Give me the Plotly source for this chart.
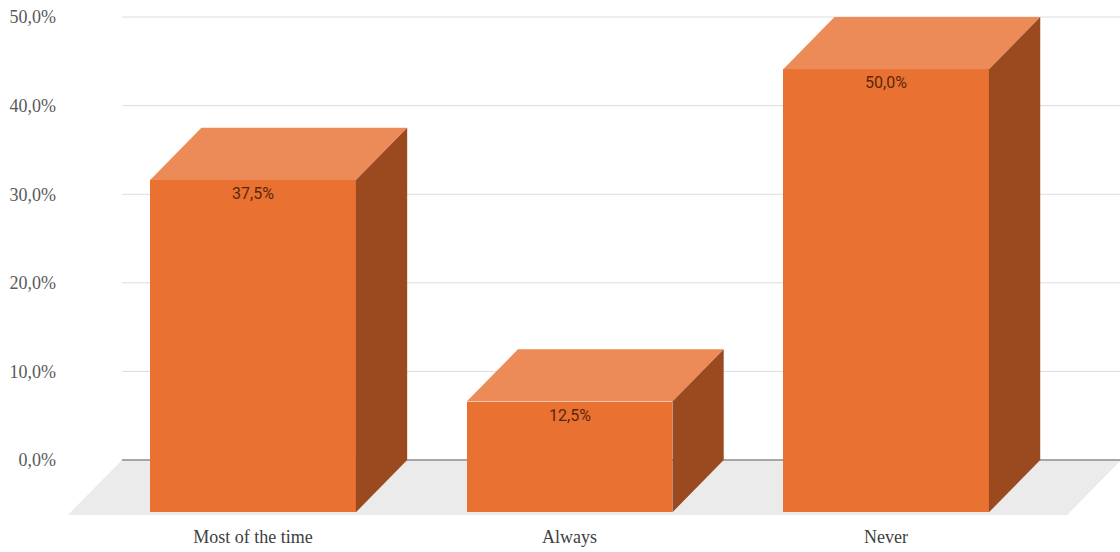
import plotly.graph_objects as go

categories = ["Most of the time", "Always", "Never"]
values = [37.5, 12.5, 50.0]
y_ticks = [0, 10, 20, 30, 40, 50]

# geometry / style (not data)
BAR_W = 0.65
DX = 0.162        # depth offset in x units
DY = 5.9          # depth offset in y units
FLOOR_DY = 6.2
FLOOR_X0 = -0.585
FLOOR_X1 = 2.572
FLOOR_DX = 0.171
X_RANGE = [-0.6035, 2.739]
Y_RANGE = [-6.77, 51.92]
FRONT = "#E97132"
TOP = "#EC8A58"
SIDE = "#9B4A1F"


def pct(v):
    return f"{v:.1f}".replace(".", ",") + "%"


xs = list(range(len(categories)))

fig = go.Figure()

shapes = []
# floor
shapes.append(dict(type="path", layer="below", xref="x", yref="y",
                   path=f"M {FLOOR_X0},{-FLOOR_DY} L {FLOOR_X1},{-FLOOR_DY} "
                        f"L {FLOOR_X1 + FLOOR_DX},0 L {FLOOR_X0 + FLOOR_DX},0 Z",
                   fillcolor="#EBEBEB", line=dict(width=0)))
# gridlines on back wall
for t in y_ticks:
    shapes.append(dict(type="line", layer="below", xref="x", yref="y",
                       x0=FLOOR_X0 + FLOOR_DX, x1=X_RANGE[1] + 0.1, y0=t, y1=t,
                       line=dict(color="#A6A6A6" if t == 0 else "#DCDCDC",
                                 width=2 if t == 0 else 1)))

# front faces
fig.add_trace(go.Bar(
    x=xs, y=values, base=[-DY] * len(values), width=BAR_W,
    marker=dict(color=FRONT, line=dict(width=0)),
    hoverinfo="skip", showlegend=False,
))

# top and side faces
for x, v in zip(xs, values):
    x0 = x - BAR_W / 2
    x1 = x + BAR_W / 2
    top_y = v - DY
    fig.add_trace(go.Scatter(
        x=[x0, x1, x1 + DX, x0 + DX, x0],
        y=[top_y, top_y, v, v, top_y],
        fill="toself", fillcolor=TOP, mode="lines", line=dict(width=0, color=TOP),
        hoverinfo="skip", showlegend=False))
    fig.add_trace(go.Scatter(
        x=[x1, x1 + DX, x1 + DX, x1, x1],
        y=[-DY, 0, v, top_y, -DY],
        fill="toself", fillcolor=SIDE, mode="lines", line=dict(width=0, color=SIDE),
        hoverinfo="skip", showlegend=False))

annotations = []
for x, v in zip(xs, values):
    annotations.append(dict(x=x, y=v - DY, xref="x", yref="y", text=pct(v),
                            showarrow=False, yanchor="top", yshift=-2,
                            font=dict(family="Roboto, Arial, sans-serif", size=16,
                                      color="#5C2708")))

fig.update_layout(
    width=1120, height=552,
    margin=dict(l=62, r=0, t=0, b=32),
    paper_bgcolor="white", plot_bgcolor="white",
    shapes=shapes,
    annotations=annotations,
    bargap=0,
    xaxis=dict(range=X_RANGE, tickvals=xs, ticktext=categories, showgrid=False,
               zeroline=False, showline=False, ticks="", ticklabelstandoff=4,
               tickfont=dict(family="Liberation Serif, Times New Roman, serif", size=18, color="#404040"),
               fixedrange=True),
    yaxis=dict(range=Y_RANGE, tickvals=y_ticks, ticktext=[pct(t) for t in y_ticks],
               showgrid=False, zeroline=False, showline=False, ticks="",
               ticklabelstandoff=5,
               tickfont=dict(family="Liberation Serif, Times New Roman, serif", size=18, color="#595959"),
               fixedrange=True),
)

fig.write_html("out.html")
